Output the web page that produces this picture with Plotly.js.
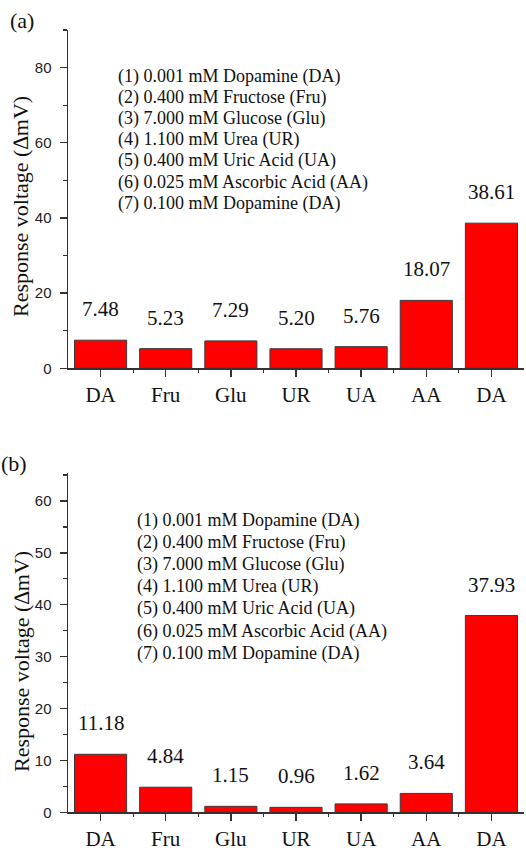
<!DOCTYPE html>
<html>
<head>
<meta charset="utf-8">
<script src="https://cdn.plot.ly/plotly-3.0.1.min.js"></script>
<style>html,body{margin:0;padding:0;background:#fff;}#chart{width:526px;height:855px;}</style>
</head>
<body>
<div id="chart"></div>
<script>
// ---- data ----
const categories = ["DA", "Fru", "Glu", "UR", "UA", "AA", "DA"];
const valuesA = [7.48, 5.23, 7.29, 5.20, 5.76, 18.07, 38.61];
const valuesB = [11.18, 4.84, 1.15, 0.96, 1.62, 3.64, 37.93];
const legendLines = [
  "(1) 0.001 mM Dopamine (DA)",
  "(2) 0.400 mM Fructose (Fru)",
  "(3) 7.000 mM Glucose (Glu)",
  "(4) 1.100 mM Urea (UR)",
  "(5) 0.400 mM Uric Acid (UA)",
  "(6) 0.025 mM Ascorbic Acid (AA)",
  "(7) 0.100 mM Dopamine (DA)"
];
const yTitle = "Response voltage (\u2206mV)";
const panelLabels = ["(a)", "(b)"];

// ---- layout helpers ----
const W = 526, H = 855;
const px = x => x / W;
const py = y => 1 - y / H;
const idx = categories.map((c, i) => i);
const bounds = idx.slice(0, -1).map(i => i + 0.5);

const serif = "Liberation Serif, Times New Roman, serif";
const sans = "Liberation Sans, Arial, sans-serif";
const axisColor = "#333";

function bar(vals, xa, ya) {
  return {
    type: "bar", x: idx, y: vals, xaxis: xa, yaxis: ya, width: 0.8,
    marker: { color: "#ff0000", line: { color: "#3a3a3a", width: 1 } },
    hoverinfo: "skip", showlegend: false
  };
}

function xAxis(anchor, standoff) {
  return {
    anchor: anchor, domain: [px(68), px(524)], range: [-0.5, 6.5],
    tickmode: "array", tickvals: idx, ticktext: categories,
    ticks: "outside", ticklen: 7, tickwidth: 1.3, tickcolor: axisColor,
    showline: true, linecolor: axisColor, linewidth: 1.5,
    showgrid: false, zeroline: false, fixedrange: true,
    ticklabelstandoff: standoff,
    tickfont: { family: serif, size: 21, color: "#111" },
    minor: { tickmode: "array", tickvals: bounds, ticks: "outside", ticklen: 3.5, tickwidth: 1.2, tickcolor: axisColor, showgrid: false }
  };
}

function yAxis(anchor, domain, range, dtick) {
  return {
    anchor: anchor, domain: domain, range: range,
    tickmode: "linear", tick0: 0, dtick: dtick,
    ticks: "outside", ticklen: 7, tickwidth: 1.3, tickcolor: axisColor,
    showline: true, linecolor: axisColor, linewidth: 1.5,
    showgrid: false, zeroline: false, fixedrange: true,
    ticklabelstandoff: 5,
    tickfont: { family: sans, size: 15, color: "#222" },
    minor: { tick0: 0, dtick: dtick / 2, ticks: "outside", ticklen: 3.5, tickwidth: 1.2, tickcolor: axisColor, showgrid: false }
  };
}

const annotations = [];
function valueLabels(vals, xa, ya) {
  vals.forEach((v, i) => annotations.push({
    x: i, y: v, xref: xa, yref: ya, text: v.toFixed(2), showarrow: false,
    xanchor: "center", yanchor: "middle", yshift: 31,
    font: { family: serif, size: 21, color: "#111" }
  }));
}
valueLabels(valuesA, "x", "y");
valueLabels(valuesB, "x2", "y2");

function legendBlock(left, top, step) {
  legendLines.forEach((t, i) => annotations.push({
    x: px(left), y: py(top + i * step), xref: "paper", yref: "paper",
    text: t, showarrow: false, xanchor: "left", yanchor: "middle",
    font: { family: serif, size: 18, color: "#111" }
  }));
}
legendBlock(116, 76, 21.2);
legendBlock(135, 520, 22.2);

[[21, 207], [21, 662]].forEach(p => annotations.push({
  x: px(p[0]), y: py(p[1]), xref: "paper", yref: "paper", text: yTitle,
  textangle: -90, showarrow: false, xanchor: "center", yanchor: "middle",
  font: { family: serif, size: 22, color: "#111" }
}));

[[22, 21], [14, 464]].forEach((p, i) => annotations.push({
  x: px(p[0]), y: py(p[1]), xref: "paper", yref: "paper", text: panelLabels[i],
  showarrow: false, xanchor: "center", yanchor: "middle",
  font: { family: serif, size: 22, color: "#111" }
}));

const layout = {
  width: W, height: H, margin: { l: 0, r: 0, t: 0, b: 0 },
  paper_bgcolor: "#fff", plot_bgcolor: "#fff", showlegend: false,
  xaxis: xAxis("y", 0),
  yaxis: yAxis("x", [py(368.3), py(30)], [0, 90], 20),
  xaxis2: xAxis("y2", 0),
  yaxis2: yAxis("x2", [py(812.3), py(473)], [0, 65.4], 10),
  annotations: annotations
};

Plotly.newPlot("chart", [bar(valuesA, "x", "y"), bar(valuesB, "x2", "y2")], layout, { staticPlot: true, displayModeBar: false });
</script>
</body>
</html>
